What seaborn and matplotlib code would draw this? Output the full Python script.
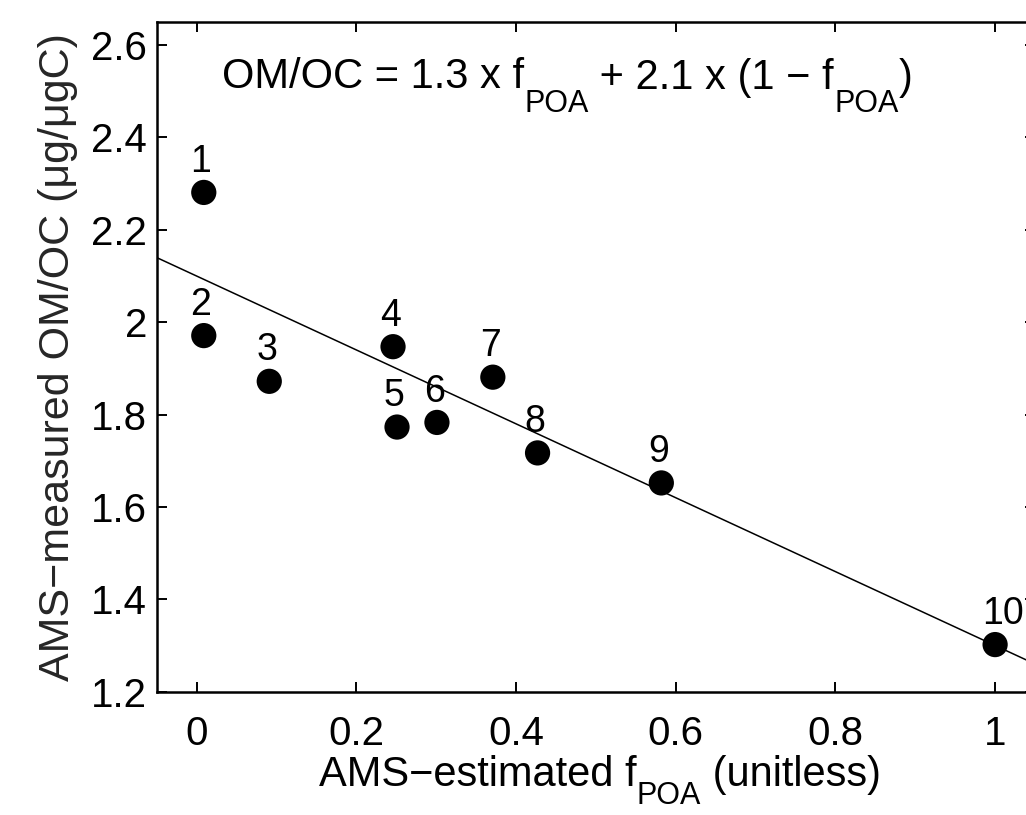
import matplotlib
matplotlib.use("Agg")
import matplotlib.pyplot as plt
import seaborn as sns
import pandas as pd

# ---- data ----
site_ids = ["1", "2", "3", "4", "5", "6", "7", "8", "9", "10"]
f_poa = [0.009, 0.009, 0.091, 0.246, 0.251, 0.301, 0.371, 0.427, 0.582, 1.0]
om_oc = [2.281, 1.971, 1.872, 1.947, 1.773, 1.783, 1.881, 1.717, 1.652, 1.302]

om_oc_poa = 1.3
om_oc_soa = 2.1
line_f = [-0.05, 1.05]
line_om_oc = [om_oc_poa * f + om_oc_soa * (1 - f) for f in line_f]

x_ticks = [0, 0.2, 0.4, 0.6, 0.8, 1]
x_tick_labels = ["0", "0.2", "0.4", "0.6", "0.8", "1"]
y_ticks = [1.2, 1.4, 1.6, 1.8, 2.0, 2.2, 2.4, 2.6]
y_tick_labels = ["1.2", "1.4", "1.6", "1.8", "2", "2.2", "2.4", "2.6"]

eq_pieces = [("OM/OC = 1.3 x f", False), ("POA", True),
             (" + 2.1 x (1 \u2212 f", False), ("POA", True), (")", False)]
xlabel_pieces = [("AMS\u2212estimated f", False), ("POA", True), (" (unitless)", False)]
ylabel_text = "AMS\u2212measured OM/OC (\u03bcg/\u03bcgC)"

# ---- style ----
sns.set_theme(style="ticks")
plt.rcParams["font.family"] = ["Liberation Sans", "DejaVu Sans"]

W, H = 1026, 815
fig = plt.figure(figsize=(W / 100, H / 100), dpi=100)
ax = fig.add_axes([0.1527, 0.1513, 1.0088 - 0.1527, 0.973 - 0.1513])

df = pd.DataFrame({"f": f_poa, "omoc": om_oc, "id": site_ids})
ldf = pd.DataFrame({"f": line_f, "omoc": line_om_oc})

sns.lineplot(data=ldf, x="f", y="omoc", ax=ax, color="black", linewidth=1.1)
sns.scatterplot(data=df, x="f", y="omoc", ax=ax, color="black", s=330,
                edgecolor="none", zorder=3)

for f, v, lab in zip(f_poa, om_oc, site_ids):
    ax.annotate(lab, (f, v), xytext=(-9.5, 15), textcoords="offset points",
                ha="left", va="baseline", fontsize=27, color="black",
                annotation_clip=False)


def chained_text(pieces, x_px, base_px, sub_drop_px, main_size, sub_size):
    """Draw text pieces one after another; subscripts dropped below baseline."""
    arts = []
    first_txt, _ = pieces[0]
    t = fig.text(x_px / W, base_px / H, first_txt, ha="left", va="baseline",
                 fontsize=main_size, color="black")
    arts.append(t)
    prev = t
    for txt, is_sub in pieces[1:]:
        y = base_px - sub_drop_px if is_sub else base_px
        a = ax.annotate(txt, xy=(1, y), xycoords=(prev, "figure pixels"),
                        ha="left", va="baseline",
                        fontsize=sub_size if is_sub else main_size,
                        color="black", annotation_clip=False)
        arts.append(a)
        prev = a
    return arts


# equation
chained_text(eq_pieces, 222, H - 88.5, 23, 30, 22)

# x label (centred under the axes after measuring)
xl = chained_text(xlabel_pieces, 290, H - 786, 18, 30, 22)

ax.set_xlim(-0.05, 1.05)
ax.set_ylim(1.2, 2.65)
ax.set_xticks(x_ticks)
ax.set_xticklabels(x_tick_labels)
ax.set_yticks(y_ticks)
ax.set_yticklabels(y_tick_labels)

ax.tick_params(direction="in", length=7, width=1.4, labelsize=29,
               top=True, right=True, color="black", labelcolor="black")
ax.tick_params(axis="x", pad=17)
ax.tick_params(axis="y", pad=7)
for s in ax.spines.values():
    s.set_visible(True)
    s.set_linewidth(1.8)
    s.set_color("black")

ax.set_xlabel("")
ax.set_ylabel(ylabel_text, fontsize=31, labelpad=9)
ax.grid(False)

fig.canvas.draw()
r = fig.canvas.get_renderer()
x_left = min(a.get_window_extent(r).x0 for a in xl)
x_right = max(a.get_window_extent(r).x1 for a in xl)
shift = 600 - (x_left + x_right) / 2
x0, y0 = xl[0].get_position()
xl[0].set_position((x0 + shift / W, y0))

fig.savefig("out.png", dpi=100)
